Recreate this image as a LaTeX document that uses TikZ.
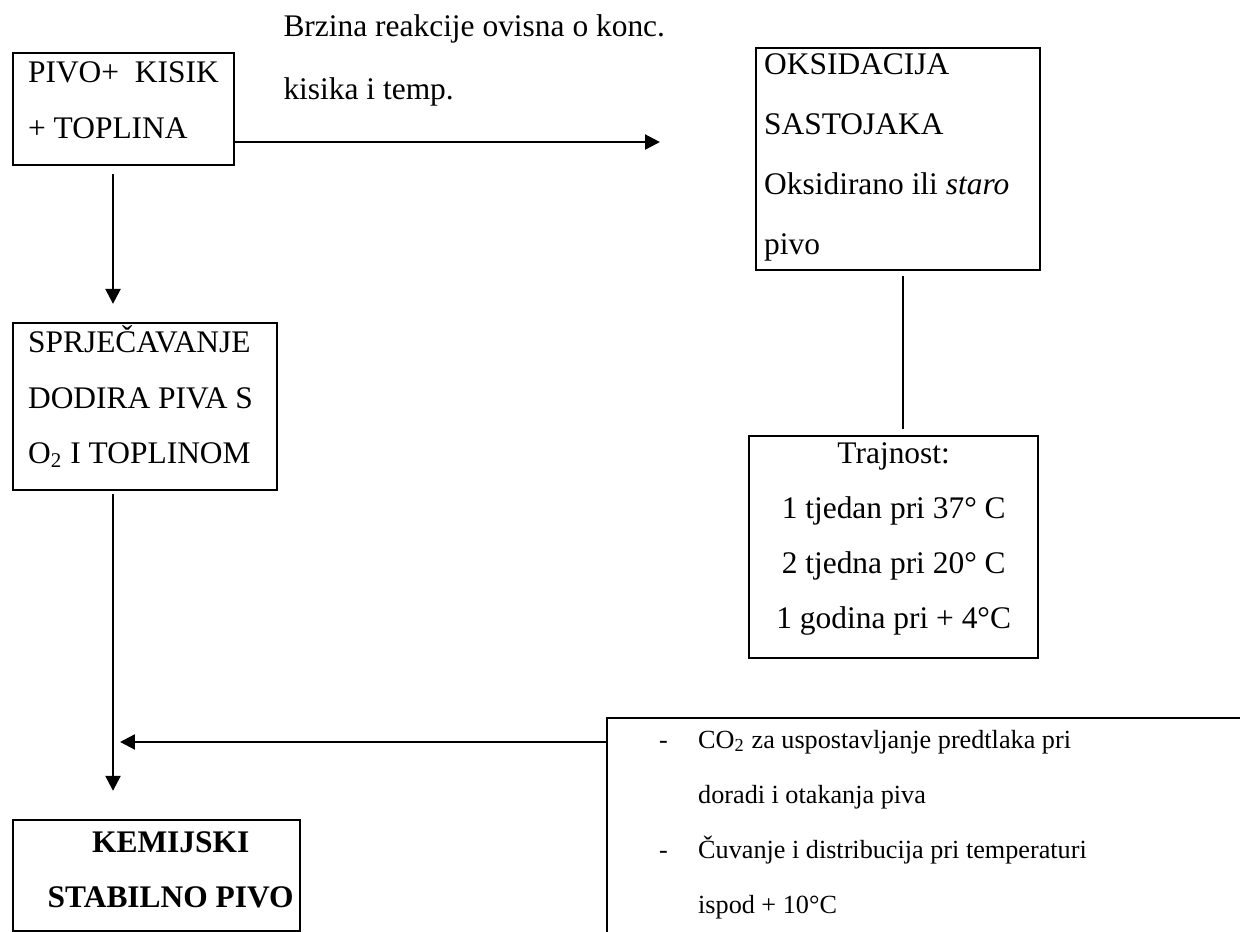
\documentclass[tikz,border=0pt]{standalone}
\usepackage{fontspec}
\setmainfont{Liberation Serif}
\usepackage{tikz}
\usetikzlibrary{arrows.meta, positioning, calc}
\hyphenpenalty=10000
\exhyphenpenalty=10000

\newcommand{\listdash}{\makebox[1.221cm][l]{\hspace{0.698cm}-}}
\newcommand{\listgap}{\hspace*{1.221cm}}

\begin{document}
\begin{tikzpicture}[
    >={Triangle[length=5.7pt, width=5.7pt]},
    step_box/.style={
        rectangle, draw=black, line width=0.9pt, inner xsep=0.2cm, inner ysep=0pt,
        anchor=base west, align=flush left, font=\fontsize{12}{21}\selectfont
    },
    flow/.style={draw=black, line width=0.9pt, ->},
    link/.style={draw=black, line width=0.5pt},
    note_text/.style={anchor=base west, inner sep=0pt, align=flush left, font=\fontsize{12}{24}\selectfont}
]
    \useasboundingbox (0,0) rectangle (16.634,-12.502);
    \clip (0,0) rectangle (16.634,-12.502);

    % Left column: beer, prevention, stable beer
    \node[step_box, text width=2.565cm, text height=0.402cm, text depth=1.100cm] (pivo) at (0.161, -1.113) {
        PIVO+~~KISIK\\
        + TOPLINA
    };

    \node[step_box, text width=3.141cm, text height=0.402cm, text depth=1.838cm] (sprj) at (0.161, -4.735) {
        SPRJEČAVANJE\\
        DODIRA PIVA S\\
        O\textsubscript{2} I TOPLINOM
    };

    \node[step_box, align=flush center, inner xsep=0pt, text width=3.850cm, text height=0.429cm, text depth=1.060cm] (kem) at (0.161, -11.429) {
        \hspace*{0.376cm}\textbf{KEMIJSKI}\\
        \hspace*{0.376cm}\textbf{STABILNO PIVO}
    };

    % Right column: oxidation and shelf life
    \node[step_box, inner xsep=0.107cm, text width=3.596cm, text height=0.350cm, text depth=2.630cm,
          font=\fontsize{12}{22.9}\selectfont] (oks) at (10.128, -0.994) {
        OKSIDACIJA\\
        SASTOJAKA\\
        Oksidirano ili \textit{staro}\\
        pivo
    };

    \node[step_box, align=flush center, text width=3.477cm, text height=0.362cm, text depth=2.616cm] (traj) at (10.034, -6.211) {
        Trajnost:\\
        1 tjedan pri 37° C\\
        2 tjedna pri 20° C\\
        1 godina pri + 4°C
    };

    % Bottom right: measures (runs off the page)
    \node[step_box, inner xsep=0pt, text width=8.77cm, text height=0.402cm, text depth=3.354cm,
          font=\fontsize{10}{21}\selectfont] (co2) at (8.129, -10.034) {
        \listdash CO\textsubscript{2} za uspostavljanje predtlaka pri\\
        \listgap doradi i otakanja piva\\
        \listdash Čuvanje i distribucija pri temperaturi\\
        \listgap ispod + 10°C
    };

    % Label over the top arrow
    \node[note_text, text width=5.4cm] (brzina) at (3.796, -0.496) {
        Brzina reakcije ovisna o konc.\\
        kisika i temp.
    };

    \coordinate (rate_end) at (8.853, -1.905);
    \coordinate (spine) at (1.516, -9.953);
    \coordinate (tie) at (12.113, 0);

    % --- Connections ---
    \draw[flow] (pivo.east |- rate_end) -- (rate_end);
    \draw[flow, shorten <=0.107cm, shorten >=0.241cm] (pivo.south -| spine) -- (sprj.north -| spine);
    \draw[flow, shorten <=0.04cm, shorten >=0.376cm] (sprj.south -| spine) -- (kem.north -| spine);
    \draw[flow, shorten >=0.094cm] (co2.west |- spine) -- (spine);
    \draw[link, shorten <=0.067cm, shorten >=0.08cm] (oks.south -| tie) -- (traj.north -| tie);

\end{tikzpicture}
\end{document}
